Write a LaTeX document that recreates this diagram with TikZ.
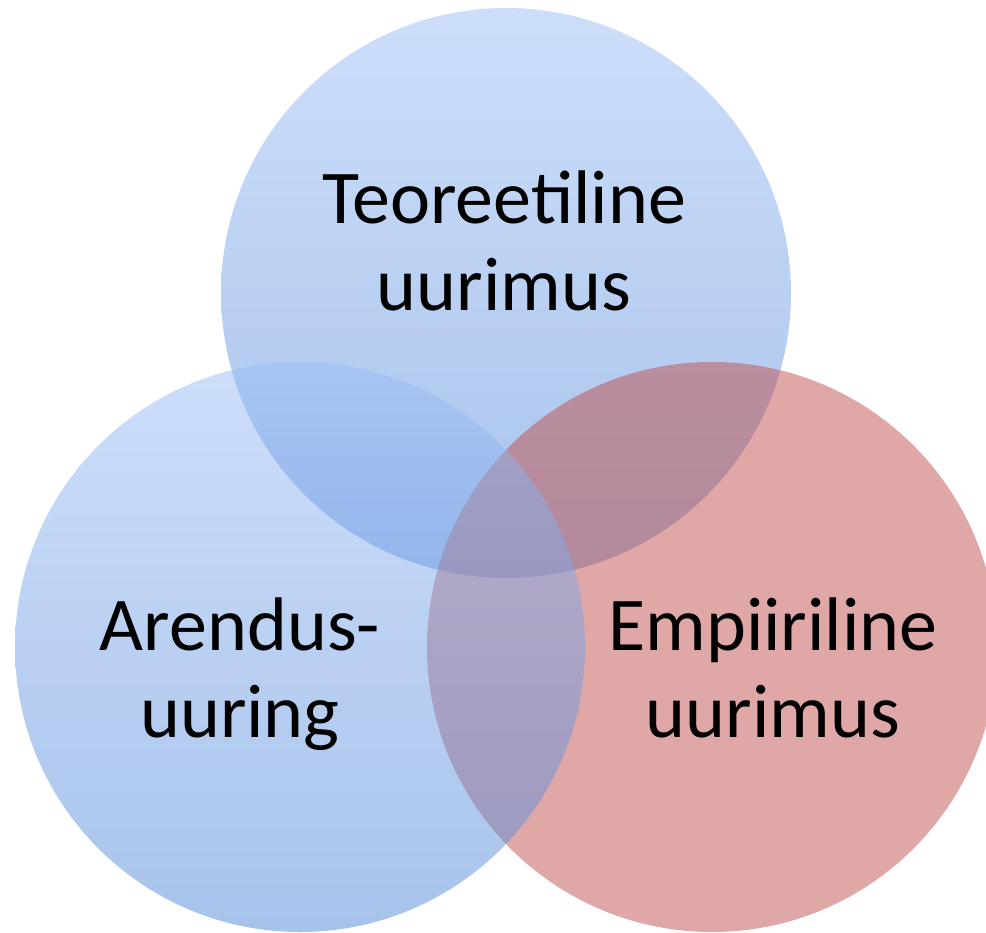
\documentclass[tikz,border=0pt]{standalone}
\usepackage{fontspec}
\setmainfont{Carlito}
\usepackage{xcolor}
\definecolor{vennBlueTop}{RGB}{155,189,245}
\definecolor{vennBlueBottom}{RGB}{80,135,215}
\definecolor{vennRed}{RGB}{192,80,77}
\newcommand{\vennRadius}{285}

\begin{document}
\begin{tikzpicture}[x=1pt,y=-1pt,
  vennBlue/.style={top color=vennBlueTop, bottom color=vennBlueBottom, fill opacity=0.5},
  vennRedFill/.style={fill=vennRed, fill opacity=0.5},
  vennText/.style={anchor=base, inner sep=0pt, align=center, font=\fontsize{76}{87}\selectfont}]
\useasboundingbox (0,0) rectangle (986,933);
% top, right, then left circle on top of the others
\shade[vennBlue] (506,293) circle[radius=\vennRadius];
\fill[vennRedFill] (712,647) circle[radius=\vennRadius];
\shade[vennBlue] (300,647) circle[radius=\vennRadius];
\node[vennText] (theory) at (504,311) {Teoreetiline\\uurimus};
\node[vennText] (development) at (240,737) {Arendus-\\uuring};
\node[vennText] (empirical) at (773,737) {Empiiriline\\uurimus};
\end{tikzpicture}
\end{document}
